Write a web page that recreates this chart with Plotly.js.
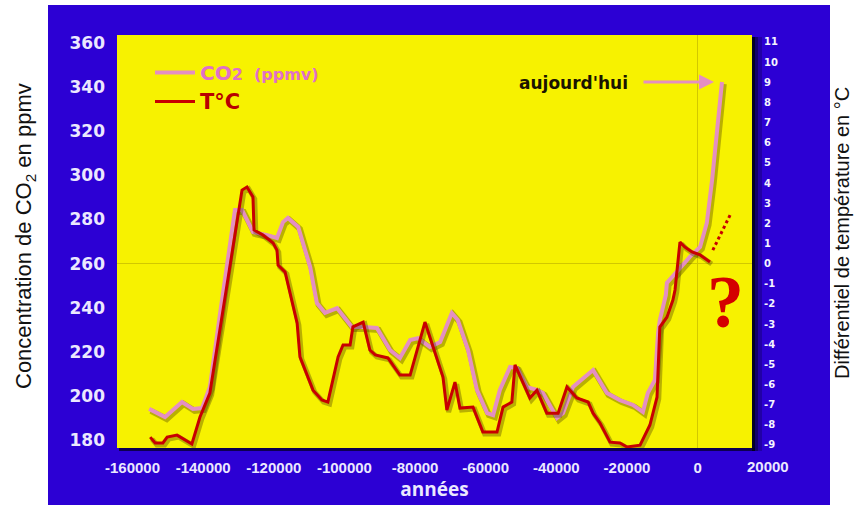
<!DOCTYPE html>
<html>
<head>
<meta charset="utf-8">
<script src="https://cdn.plot.ly/plotly-3.0.1.min.js"></script>
<style>
  html, body { margin: 0; padding: 0; background: #ffffff; }
  #chart { width: 854px; height: 505px; }
</style>
</head>
<body>
<div id="chart"></div>
<script>
// ---- Data ----
const co2Years = [-155300, -150800, -146000, -142900, -140300, -138100, -135200, -131000, -129000, -125900,
  -121900, -119100, -117400, -116000, -113100, -109700, -107800, -105500, -102100, -99800,
  -97900, -94700, -90800, -87100, -84300, -81400, -79200, -75800, -72900, -69600,
  -67900, -65000, -62500, -59600, -57900, -56000, -53100, -51100, -48300, -45500,
  -43800, -39800, -38100, -35300, -29600, -25700, -22000, -18300, -15500, -14100,
  -12100, -11200, -10700, -9000, -8700, -2200, 700, 2600, 4100, 6900];
const co2Values = [194.1, 190.4, 197.2, 194.1, 194.5, 204.0, 237.6, 284.3, 284.3, 274.3,
  272.9, 271.6, 278.8, 280.7, 276.6, 258.4, 242.1, 237.6, 239.8, 235.3,
  231.2, 231.2, 230.8, 220.8, 217.2, 225.3, 226.2, 222.2, 224.4, 237.6,
  234.4, 220.8, 202.7, 192.2, 191.3, 202.7, 213.1, 212.6, 204.0, 202.7,
  201.3, 190.0, 192.2, 204.0, 211.7, 201.3, 198.1, 195.9, 192.7, 201.3,
  207.2, 228.5, 234.4, 245.7, 251.2, 263.0, 267.5, 278.4, 297.9, 342.3];

const tempYears = [-155000, -153600, -151400, -150200, -147400, -145100, -143200, -140900, -138100, -129000,
  -127600, -125900, -125600, -123100, -120200, -119100, -118800, -116800, -113400, -112600,
  -108900, -106400, -104700, -101800, -100400, -98400, -97600, -94700, -92800, -91300,
  -87700, -84300, -81400, -77200, -74900, -72100, -71000, -68700, -67300, -63600,
  -60800, -56800, -55100, -52600, -51700, -47500, -45500, -42700, -39500, -37000,
  -34200, -31000, -29600, -27600, -24800, -22000, -20000, -16300, -13500, -11500,
  -10700, -8700, -7000, -6400, -5000, -3600, -1600, 700, 3500];
const tempValues = [-8.61, -8.90, -8.90, -8.61, -8.51, -8.75, -8.95, -7.61, -6.42, 3.65,
  3.80, 3.31, 1.67, 1.42, 1.02, 0.67, -0.07, -0.42, -2.95, -4.63,
  -6.28, -6.77, -6.87, -4.63, -4.04, -4.04, -3.14, -2.90, -4.29, -4.53,
  -4.68, -5.53, -5.53, -2.90, -4.14, -5.63, -7.27, -5.88, -7.17, -7.12,
  -8.36, -8.36, -7.12, -6.87, -5.03, -6.67, -6.28, -7.42, -7.42, -6.12,
  -6.67, -6.87, -7.42, -7.92, -8.86, -8.90, -9.10, -9.01, -8.01, -6.63,
  -3.15, -2.66, -1.81, -1.31, 1.07, 0.82, 0.58, 0.43, 0.08];

// dotted "projection" segment after today
const projYears = [4300, 9200];
const projTemp = [0.67, 2.41];

const xTickVals = [-160000, -140000, -120000, -100000, -80000, -60000, -40000, -20000, 0, 20000];
const xTickText = ['-160000', '-140000', '-120000', '-100000', '-80000', '-60000', '-40000', '-20000', '0', '20000'];
const co2TickVals = [180, 200, 220, 240, 260, 280, 300, 320, 340, 360];
const tTickVals = [-9, -8, -7, -6, -5, -4, -3, -2, -1, 0, 1, 2, 3, 4, 5, 6, 7, 8, 9, 10, 11];
const tTickText = ['-9', '-8', '-7', '-6', '-5', '-4', '-3', '-2', '-1', '0', '1', '2', '3', '4', '5', '6', '7', '8', '9', '10', '11'];

// ---- Styles ----
const BLUE = '#2c00d4';
const YELLOW = '#f7f200';
const PINK = '#e48fc2';
const RED = '#c80000';
const LABEL = '#ebe8ff';
const SHADOW = 'rgba(70,55,0,0.35)';
const X_RANGE = [-164400, 15400];
const XTICKFONT = { family: 'Liberation Sans, Arial, sans-serif', size: 15, weight: 700, color: LABEL };

// shadow copies (derived from the data arrays, slightly offset)
const shadowX = (arr) => arr.map(v => v + 500);
const co2Shadow = co2Values.map(v => v - 0.9);
const tempShadow = tempValues.map(v => v - 0.1);

const traces = [
  { x: shadowX(co2Years), y: co2Shadow, mode: 'lines', line: { color: SHADOW, width: 6 },
    yaxis: 'y', showlegend: false, hoverinfo: 'skip' },
  { x: shadowX(tempYears), y: tempShadow, mode: 'lines', line: { color: SHADOW, width: 5 },
    yaxis: 'y2', showlegend: false, hoverinfo: 'skip' },
  { x: co2Years, y: co2Values, mode: 'lines',
    name: "<span style='color:#e070c8;font-size:20px'>CO</span><span style='font-size:16px;color:#e070c8'>2&nbsp;&nbsp;(ppmv)</span>",
    line: { color: PINK, width: 4 }, yaxis: 'y' },
  { x: tempYears, y: tempValues, mode: 'lines', name: "<span style='color:#b80000;font-size:21px'>T°C</span>",
    line: { color: RED, width: 3 }, yaxis: 'y2' },
  { x: projYears, y: projTemp, mode: 'lines', line: { color: RED, width: 3, dash: 'dot' },
    yaxis: 'y2', showlegend: false, hoverinfo: 'skip' }
];

// plot area in pixels: x 117..752, y 35..448
const W = 635, H = 413;
const px = (p) => (p - 117) / W;
const py = (p) => (448 - p) / H;
// position along the x axis scale, as a fraction of the plot width
const xFrac = (v) => (v - X_RANGE[0]) / (X_RANGE[1] - X_RANGE[0]);

const shapes = [
  // white margins around the blue panel
  { type: 'rect', xref: 'paper', yref: 'paper', x0: px(-5), x1: px(48), y0: py(510), y1: py(-5), fillcolor: '#ffffff', line: { width: 0 }, layer: 'below' },
  { type: 'rect', xref: 'paper', yref: 'paper', x0: px(830), x1: px(860), y0: py(510), y1: py(-5), fillcolor: '#ffffff', line: { width: 0 }, layer: 'below' },
  { type: 'rect', xref: 'paper', yref: 'paper', x0: px(-5), x1: px(860), y0: py(5), y1: py(-5), fillcolor: '#ffffff', line: { width: 0 }, layer: 'below' },
  // dark shadow right of / below the yellow panel
  { type: 'rect', xref: 'paper', yref: 'paper', x0: px(752), x1: px(755), y0: py(451), y1: py(37), fillcolor: '#000018', opacity: 0.9, line: { width: 0 }, layer: 'below' },
  { type: 'rect', xref: 'paper', yref: 'paper', x0: px(755), x1: px(758), y0: py(451), y1: py(37), fillcolor: '#000018', opacity: 0.55, line: { width: 0 }, layer: 'below' },
  { type: 'rect', xref: 'paper', yref: 'paper', x0: px(758), x1: px(762), y0: py(451), y1: py(37), fillcolor: '#000018', opacity: 0.25, line: { width: 0 }, layer: 'below' },
  { type: 'rect', xref: 'paper', yref: 'paper', x0: px(119), x1: px(755), y0: py(451), y1: py(448), fillcolor: '#000018', opacity: 0.7, line: { width: 0 }, layer: 'below' }
];

const lastI = co2Years.length - 1;
const annotations = [
  { xref: 'paper', yref: 'paper', x: px(25), y: py(236), xanchor: 'center', yanchor: 'middle',
    text: 'Concentration de CO<sub>2</sub> en ppmv',
    textangle: -90, showarrow: false, font: { family: 'Liberation Sans, Arial, sans-serif', size: 22, color: '#111111' } },
  { xref: 'paper', yref: 'paper', x: px(842), y: py(233), xanchor: 'center', yanchor: 'middle',
    text: 'Différentiel de température en °C',
    textangle: -90, showarrow: false, font: { family: 'Liberation Sans, Arial, sans-serif', size: 20, color: '#111111' } },
  { xref: 'paper', yref: 'paper', x: px(573), y: py(83), xanchor: 'center', yanchor: 'middle',
    text: "<b>aujourd'hui</b>", showarrow: false,
    font: { family: 'DejaVu Sans, sans-serif', size: 17, color: '#1a1400' } },
  { x: co2Years[lastI], y: co2Values[lastI], xref: 'x', yref: 'y', text: '', showarrow: true,
    ax: -80, ay: 0, arrowhead: 2, arrowsize: 1, arrowwidth: 3, arrowcolor: PINK, standoff: 8 },
  { xref: 'paper', yref: 'paper', x: px(725), y: py(302), xanchor: 'center', yanchor: 'middle',
    text: '<b>?</b>', showarrow: false,
    font: { family: 'Liberation Serif, serif', size: 74, color: '#d40000' } }
];

// x tick labels that fall beyond the plotted range (placed on the axis scale)
xTickVals.forEach((v, i) => {
  if (v > X_RANGE[1] || v < X_RANGE[0]) {
    annotations.push({ x: xFrac(v), xref: 'paper', yref: 'paper', y: py(466), xanchor: 'center', yanchor: 'middle',
      text: xTickText[i], showarrow: false, font: XTICKFONT });
  }
});

const layout = {
  width: 854, height: 505,
  margin: { l: 117, r: 102, t: 35, b: 57, pad: 0 },
  paper_bgcolor: BLUE,
  plot_bgcolor: YELLOW,
  showlegend: true,
  legend: {
    x: px(150), y: py(53), xanchor: 'left', yanchor: 'top',
    bgcolor: 'rgba(0,0,0,0)', borderwidth: 0,
    font: { family: 'DejaVu Sans, sans-serif', size: 20, weight: 700 },
    itemwidth: 40, tracegroupgap: 0
  },
  xaxis: {
    range: X_RANGE,
    tickvals: xTickVals, ticktext: xTickText,
    showgrid: false, zeroline: true, zerolinecolor: '#d2c800', zerolinewidth: 1,
    showline: false, ticks: '', ticklabelstandoff: 9,
    tickfont: XTICKFONT,
    title: { text: '<b>années</b>', standoff: 6,
      font: { family: 'Open Sans, DejaVu Sans, sans-serif', size: 19, color: LABEL } }
  },
  yaxis: {
    range: [176.37, 363.62],
    tickvals: co2TickVals,
    showgrid: false, zeroline: false, showline: false, ticks: '', ticklabelstandoff: 11,
    tickfont: { family: 'DejaVu Sans, sans-serif', size: 17, weight: 700, color: LABEL }
  },
  yaxis2: {
    range: [-9.15, 11.345],
    overlaying: 'y', side: 'right',
    tickvals: tTickVals, ticktext: tTickText,
    showgrid: false, zeroline: true, zerolinecolor: '#d2c800', zerolinewidth: 1,
    showline: false, ticks: '', ticklabelstandoff: 11,
    tickfont: { family: 'DejaVu Sans, sans-serif', size: 10, weight: 700, color: '#f4f4ff' }
  },
  shapes: shapes,
  annotations: annotations
};

Plotly.newPlot('chart', traces, layout, { displayModeBar: false, staticPlot: true });
</script>
</body>
</html>
